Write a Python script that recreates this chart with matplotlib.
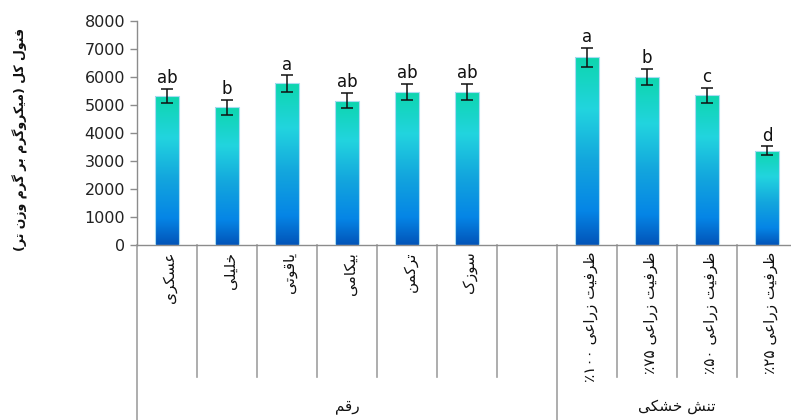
import numpy as np
import matplotlib
matplotlib.use("Agg")
import matplotlib.pyplot as plt
from matplotlib.colors import LinearSegmentedColormap
import matplotlib.transforms as mtransforms

# Data: total phenol (ug/g FW) for cultivars and drought levels
cultivars = ["عسکری", "خلیلی", "یاقوتی", "بیکامی", "ترکمن", "سوزک"]
cultivar_means = [5320, 4920, 5770, 5160, 5480, 5480]
cultivar_err = [255, 265, 290, 265, 285, 285]
cultivar_letters = ["ab", "b", "a", "ab", "ab", "ab"]

drought = ["ظرفیت زراعی ۱۰۰٪", "ظرفیت زراعی ۷۵٪", "ظرفیت زراعی ۵۰٪", "ظرفیت زراعی ۲۵٪"]
drought_means = [6700, 5990, 5340, 3370]
drought_err = [340, 290, 280, 155]
drought_letters = ["a", "b", "c", "d"]

group_names = ["رقم", "تنش خشکی"]
ylabel = "فنول کل (میکروگرم بر گرم وزن تر)"
yticks = [0, 1000, 2000, 3000, 4000, 5000, 6000, 7000, 8000]

# --- simple Arabic/Persian shaping (matplotlib has no complex text layout) ---
FORMS = {
    "ا": ("\uFE8D", "\uFE8E"), "د": ("\uFEA9", "\uFEAA"), "ذ": ("\uFEAB", "\uFEAC"),
    "ر": ("\uFEAD", "\uFEAE"), "ز": ("\uFEAF", "\uFEB0"), "ژ": ("\uFB8A", "\uFB8B"),
    "و": ("\uFEED", "\uFEEE"),
    "ب": ("\uFE8F", "\uFE90", "\uFE91", "\uFE92"), "پ": ("\uFB56", "\uFB57", "\uFB58", "\uFB59"),
    "ت": ("\uFE95", "\uFE96", "\uFE97", "\uFE98"), "ث": ("\uFE99", "\uFE9A", "\uFE9B", "\uFE9C"),
    "ج": ("\uFE9D", "\uFE9E", "\uFE9F", "\uFEA0"), "ح": ("\uFEA1", "\uFEA2", "\uFEA3", "\uFEA4"),
    "خ": ("\uFEA5", "\uFEA6", "\uFEA7", "\uFEA8"), "س": ("\uFEB1", "\uFEB2", "\uFEB3", "\uFEB4"),
    "ش": ("\uFEB5", "\uFEB6", "\uFEB7", "\uFEB8"), "ص": ("\uFEB9", "\uFEBA", "\uFEBB", "\uFEBC"),
    "ض": ("\uFEBD", "\uFEBE", "\uFEBF", "\uFEC0"), "ط": ("\uFEC1", "\uFEC2", "\uFEC3", "\uFEC4"),
    "ظ": ("\uFEC5", "\uFEC6", "\uFEC7", "\uFEC8"), "ع": ("\uFEC9", "\uFECA", "\uFECB", "\uFECC"),
    "غ": ("\uFECD", "\uFECE", "\uFECF", "\uFED0"), "ف": ("\uFED1", "\uFED2", "\uFED3", "\uFED4"),
    "ق": ("\uFED5", "\uFED6", "\uFED7", "\uFED8"), "ک": ("\uFB8E", "\uFB8F", "\uFB90", "\uFB91"),
    "گ": ("\uFB92", "\uFB93", "\uFB94", "\uFB95"), "ل": ("\uFEDD", "\uFEDE", "\uFEDF", "\uFEE0"),
    "م": ("\uFEE1", "\uFEE2", "\uFEE3", "\uFEE4"), "ن": ("\uFEE5", "\uFEE6", "\uFEE7", "\uFEE8"),
    "ه": ("\uFEE9", "\uFEEA", "\uFEEB", "\uFEEC"), "ی": ("\uFBFC", "\uFBFD", "\uFBFE", "\uFBFF"),
}
MIRROR = {"(": ")", ")": "("}
DIGITS = set("۰۱۲۳۴۵۶۷۸۹0123456789")


def shape(text):
    out = []
    n = len(text)
    for i, ch in enumerate(text):
        f = FORMS.get(ch)
        if f is None:
            out.append(ch)
            continue
        prev = text[i - 1] if i > 0 else ""
        nxt = text[i + 1] if i < n - 1 else ""
        join_prev = prev in FORMS and len(FORMS[prev]) == 4
        join_next = len(f) == 4 and nxt in FORMS
        if join_prev and join_next:
            out.append(f[3])
        elif join_prev:
            out.append(f[1])
        elif join_next:
            out.append(f[2])
        else:
            out.append(f[0])
    # visual order: reverse, keeping digit runs left-to-right
    runs, cur = [], ""
    for ch in out:
        if ch in DIGITS:
            cur += ch
        else:
            if cur:
                runs.append(cur)
                cur = ""
            runs.append(MIRROR.get(ch, ch))
    if cur:
        runs.append(cur)
    return "".join(runs[::-1])


plt.rcParams["font.family"] = ["DejaVu Sans"]

labels = cultivars + [""] + drought
means = cultivar_means + [np.nan] + drought_means
errs = cultivar_err + [np.nan] + drought_err
letters = cultivar_letters + [""] + drought_letters
x = np.arange(len(labels))

W, H = 791, 420
fig = plt.figure(figsize=(W / 100, H / 100), dpi=100)
ax = fig.add_axes([137 / W, (H - 245) / H, 660 / W, 224 / H])

# gradient fill for the bars: teal at the top down to deep blue
cmap = LinearSegmentedColormap.from_list(
    "barfill",
    [(0.0, "#0dd6ae"), (0.28, "#22d4df"), (0.55, "#13a6dd"),
     (0.82, "#0585e6"), (1.0, "#0254b8")])
grad = np.linspace(0, 1, 256).reshape(-1, 1)

mask = ~np.isnan(means)
bars = ax.bar(x[mask], np.array(means)[mask], width=0.4, color="none",
              edgecolor="#a9dcf2", linewidth=0.8, zorder=3)
for b in bars:
    x0, y0, w, h = b.get_x(), b.get_y(), b.get_width(), b.get_height()
    im = ax.imshow(grad, cmap=cmap, aspect="auto", extent=[x0, x0 + w, y0, y0 + h],
                   origin="upper", zorder=2, interpolation="bilinear")
    im.set_clip_path(b)

ax.errorbar(x[mask], np.array(means)[mask], yerr=np.array(errs)[mask], fmt="none",
            ecolor="#111111", elinewidth=1.1, capsize=4, capthick=1.1, zorder=4)

for xi, m, e, t in zip(x, means, errs, letters):
    if t:
        ax.text(xi, m + e + 60, t, ha="center", va="bottom", fontsize=12, color="#111111")

ax.set_xlim(-0.5, 10.5)
ax.set_ylim(0, 8000)
ax.set_yticks(yticks)
ax.set_yticklabels([str(v) for v in yticks], fontsize=11.5, color="#222222")
ax.set_xticks([])
ax.tick_params(axis="y", length=5, color="#8c8c8c", width=1)

for s in ["top", "right"]:
    ax.spines[s].set_visible(False)
for s in ["left", "bottom"]:
    ax.spines[s].set_color("#8c8c8c")
    ax.spines[s].set_linewidth(1)

# category separators and group separators below the axis
trans = mtransforms.blended_transform_factory(ax.transData, ax.transAxes)
short = -132 / 224
long = -180 / 224
for k in range(len(labels) + 1):
    xb = k - 0.5
    y_end = long if k in (0, 7) else short
    ax.plot([xb, xb], [0, y_end], color="#a0a0a0", lw=1.2, transform=trans, clip_on=False)

for xi, lab in zip(x, labels):
    if lab:
        ax.text(xi + 0.05, -0.03, shape(lab), transform=trans, rotation=90,
                ha="center", va="top", fontsize=11, color="#111111")

ax.text(3.0, -162 / 224, shape(group_names[0]), transform=trans, ha="center",
        va="center", fontsize=11, color="#111111")
ax.text(8.5, -162 / 224, shape(group_names[1]), transform=trans, ha="center",
        va="center", fontsize=11, color="#111111")

fig.text(20 / W, 1 - 140 / H, shape(ylabel), rotation=90, ha="center", va="center",
         fontsize=9, fontweight="bold", color="#111111")

fig.savefig("out.png", dpi=100)
